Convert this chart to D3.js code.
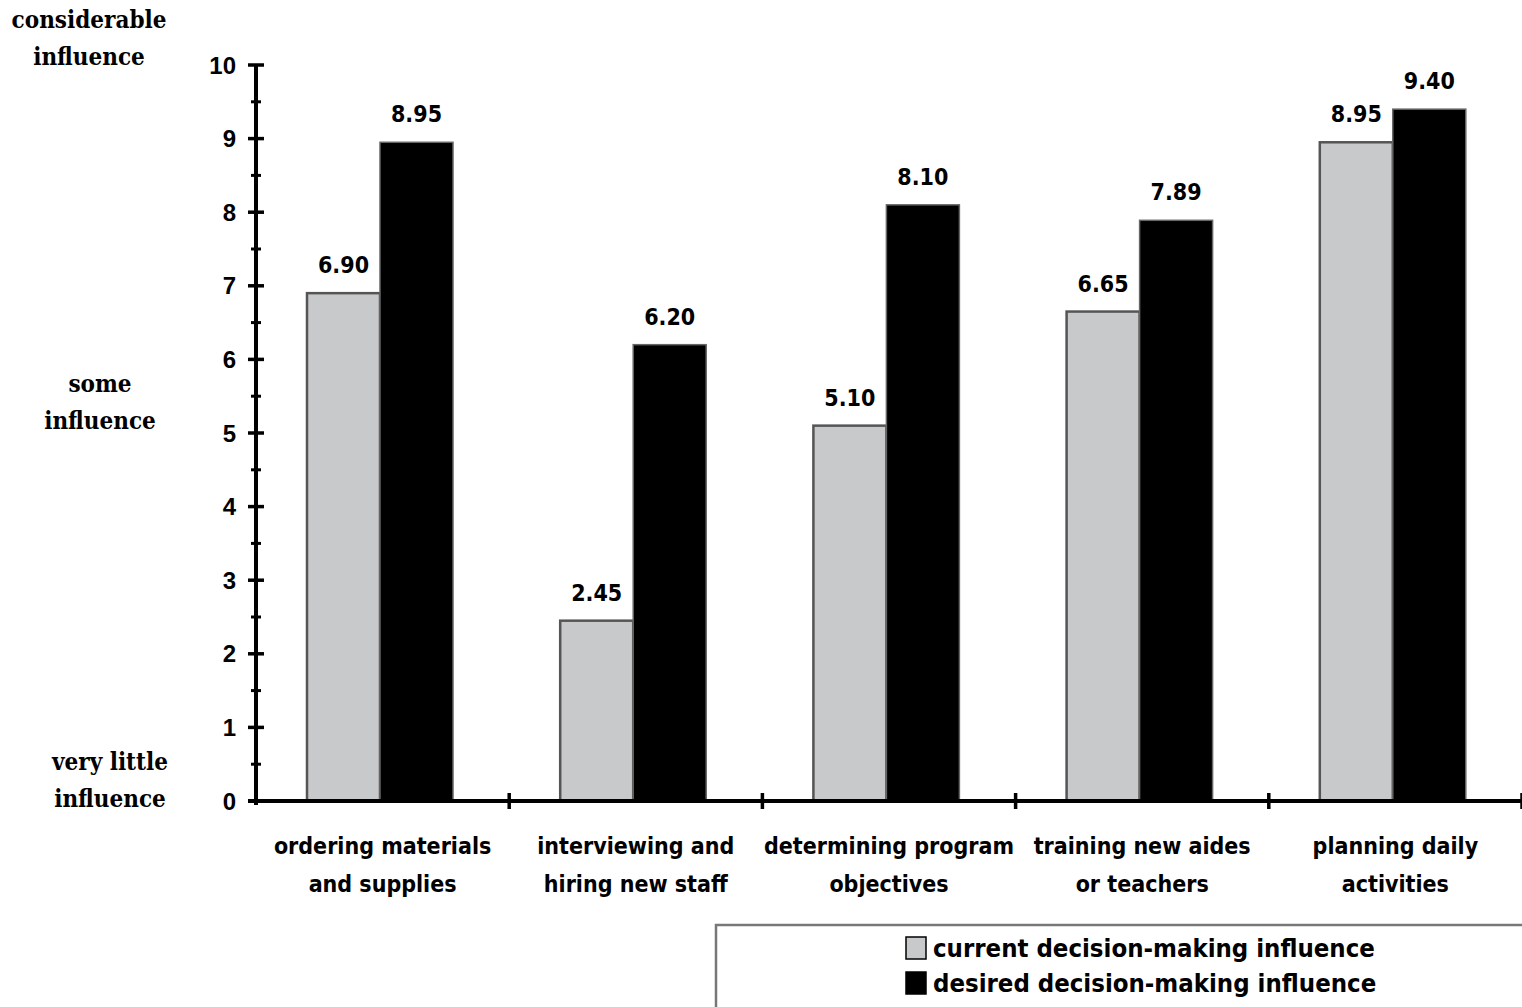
<!DOCTYPE html>
<html><head><meta charset="utf-8">
<script src="https://cdn.jsdelivr.net/npm/d3@7"></script>
<style>
body{margin:0;background:#fff;}
svg{display:block;}
.sans{font-family:"DejaVu Sans Condensed","DejaVu Sans",sans-serif;font-weight:bold;}
.serif{font-family:"DejaVu Serif Condensed","DejaVu Serif",serif;font-weight:bold;}
</style></head>
<body>
<script>
const categories = [["ordering materials","and supplies"],["interviewing and","hiring new staff"],["determining program","objectives"],["training new aides","or teachers"],["planning daily","activities"]];
const currentValues = [6.90, 2.45, 5.10, 6.65, 8.95];
const desiredValues = [8.95, 6.20, 8.10, 7.89, 9.40];
const seriesNames = ["current decision-making influence","desired decision-making influence"];
const yTicks = [0,1,2,3,4,5,6,7,8,9,10];
const sideLabels = [{v:10.5,t:["considerable","influence"]},{v:5.56,t:["some","influence"]},{v:0.415,t:["very little","influence"]}];

const W=1522,H=1007;
const svg=d3.select("body").append("svg").attr("width",W).attr("height",H);
const x0=256, xEnd=1522, y0=801, yTop=65;
const x=d3.scaleBand().domain(d3.range(categories.length)).range([x0,xEnd]).paddingInner(0).paddingOuter(0);
const y=d3.scaleLinear().domain([0,10]).range([y0,yTop]);
const bw=73;
const off=51;

// bars
const g=svg.append("g");
categories.forEach((c,i)=>{
  const bx=x(i)+off;
  g.append("rect").attr("x",bx).attr("y",y(currentValues[i])).attr("width",bw).attr("height",y(0)-y(currentValues[i]))
    .attr("fill","#c8c9cb").attr("stroke","#555").attr("stroke-width",2.5);
  g.append("rect").attr("x",bx+bw).attr("y",y(desiredValues[i])).attr("width",bw).attr("height",y(0)-y(desiredValues[i]))
    .attr("fill","#000").attr("stroke","#666").attr("stroke-width",1.5);
  g.append("text").attr("class","sans").attr("x",bx+bw/2).attr("y",y(currentValues[i])-20).attr("text-anchor","middle")
    .attr("font-size",23).text(currentValues[i].toFixed(2));
  g.append("text").attr("class","sans").attr("x",bx+bw*1.5).attr("y",y(desiredValues[i])-20).attr("text-anchor","middle")
    .attr("font-size",23).text(desiredValues[i].toFixed(2));
  const t=g.append("text").attr("class","sans").attr("text-anchor","middle").attr("font-size",23);
  c.forEach((line,k)=>t.append("tspan").attr("x",x(i)+x.bandwidth()/2).attr("y",854+k*38).text(line));
});

// y axis
const ax=svg.append("g");
ax.append("line").attr("x1",x0).attr("x2",x0).attr("y1",y(10)).attr("y2",y(0)+4).attr("stroke","#000").attr("stroke-width",4);
yTicks.forEach(v=>{
  ax.append("line").attr("x1",x0-8).attr("x2",x0+8).attr("y1",y(v)).attr("y2",y(v)).attr("stroke","#000").attr("stroke-width",3.5);
  ax.append("text").attr("x",x0-20).attr("y",y(v)).attr("dy","0.36em").attr("text-anchor","end")
    .attr("font-family","Liberation Sans, Arial, sans-serif").attr("font-weight","bold").attr("font-size",24).text(v);
});
d3.range(0.5,10,1).forEach(v=>{
  ax.append("line").attr("x1",x0-5).attr("x2",x0+5).attr("y1",y(v)).attr("y2",y(v)).attr("stroke","#000").attr("stroke-width",3);
});
// x axis
ax.append("line").attr("x1",x0-8).attr("x2",xEnd).attr("y1",y0).attr("y2",y0).attr("stroke","#000").attr("stroke-width",4);
d3.range(1,categories.length+1).forEach(i=>{
  const xx=x0+i*x.bandwidth();
  ax.append("line").attr("x1",xx).attr("x2",xx).attr("y1",y0-8).attr("y2",y0+8).attr("stroke","#000").attr("stroke-width",3.5);
});

// side labels
sideLabels.forEach(s=>{
  const t=svg.append("text").attr("class","serif").attr("text-anchor","middle").attr("font-size",24);
  const cx = s.v>10?89:(s.v>5?100:110);
  s.t.forEach((line,k)=>t.append("tspan").attr("x",cx).attr("y",y(s.v)+k*37).text(line));
});

// legend
const lg=svg.append("g");
lg.append("rect").attr("x",716).attr("y",925).attr("width",820).attr("height",120).attr("fill","#fff").attr("stroke","#777").attr("stroke-width",2.5);
const lcols=["#c8c9cb","#000"];
seriesNames.forEach((n,i)=>{
  const yy=948+i*35;
  lg.append("rect").attr("x",906).attr("y",yy-11).attr("width",20).attr("height",22).attr("fill",lcols[i]).attr("stroke","#000").attr("stroke-width",1.5);
  lg.append("text").attr("class","sans").attr("x",933).attr("y",yy).attr("dy","0.36em").attr("font-size",25.5).text(n);
});
</script>
</body></html>
